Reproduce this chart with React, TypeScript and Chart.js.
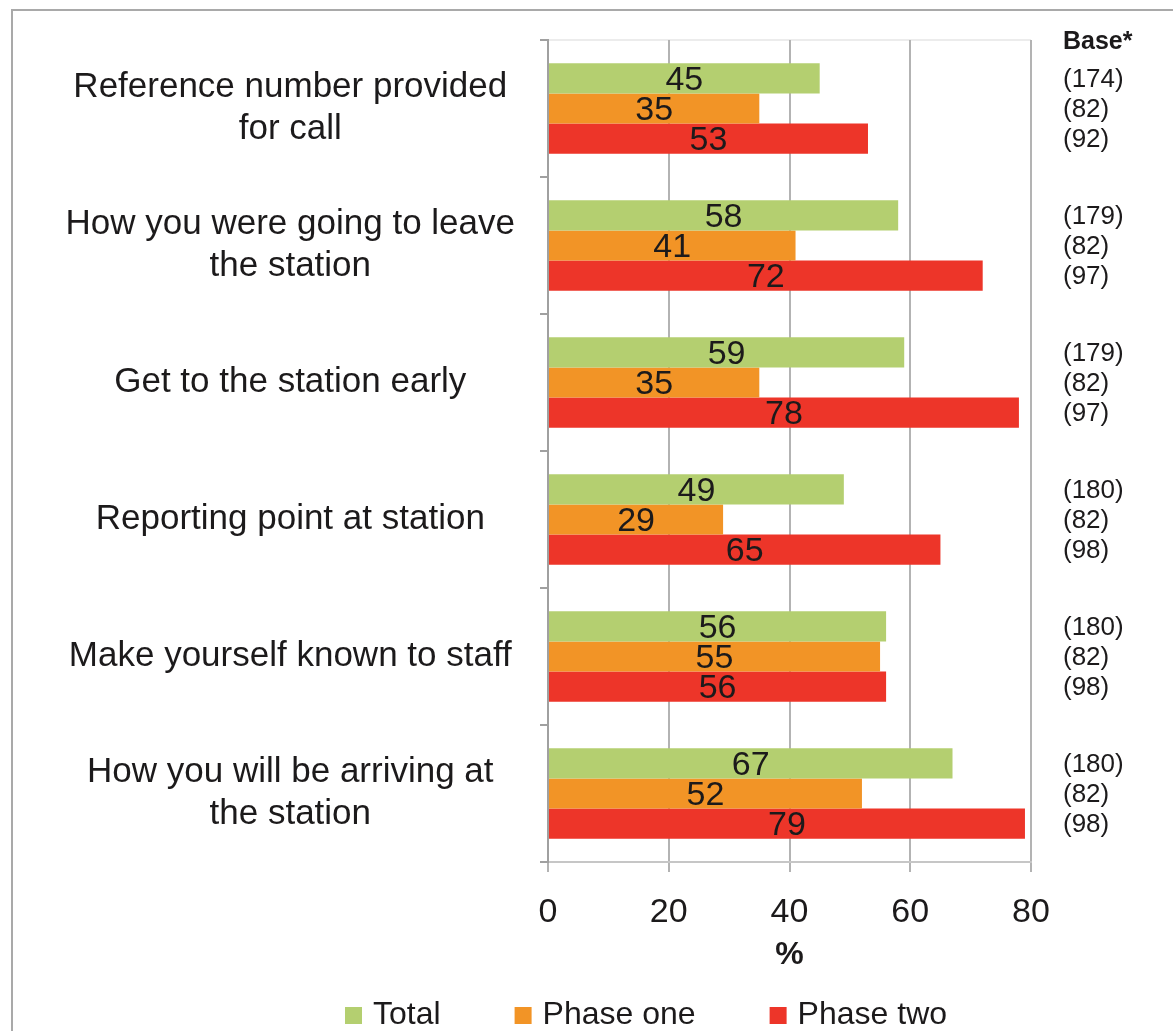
import React, { useEffect, useRef } from "react";
import { Chart, registerables } from "chart.js";

Chart.register(...registerables);

const categories: string[][] = [
  ["Reference number provided", "for call"],
  ["How you were going to leave", "the station"],
  ["Get to the station early"],
  ["Reporting point at station"],
  ["Make yourself known to staff"],
  ["How you will be arriving at", "the station"],
];

const seriesNames = ["Total", "Phase one", "Phase two"];
const totalValues = [45, 58, 59, 49, 56, 67];
const phaseOneValues = [35, 41, 35, 29, 55, 52];
const phaseTwoValues = [53, 72, 78, 65, 56, 79];

const baseTotal = [174, 179, 179, 180, 180, 180];
const basePhaseOne = [82, 82, 82, 82, 82, 82];
const basePhaseTwo = [92, 97, 97, 98, 98, 98];

const xTicks = [0, 20, 40, 60, 80];

const colors = ["#b4cf70", "#f29426", "#ed3529"];
const FONT = "'Liberation Sans', Arial, Helvetica, sans-serif";
const TEXT = "#1c1a1b";

const bases = [baseTotal, basePhaseOne, basePhaseTwo];

const framePlugin = {
  id: "frame",
  beforeDraw(chart: any) {
    const ctx = chart.ctx;
    ctx.save();
    ctx.fillStyle = "#ffffff";
    ctx.fillRect(0, 0, chart.width, chart.height);
    ctx.strokeStyle = "#a9a9a9";
    ctx.lineWidth = 2;
    ctx.strokeRect(12, 10, chart.width + 50, chart.height + 50);
    const a = chart.chartArea;
    ctx.strokeStyle = "#ececec";
    ctx.beginPath();
    ctx.moveTo(a.left, a.top);
    ctx.lineTo(a.right, a.top);
    ctx.stroke();
    ctx.restore();
  },
};

const labelsPlugin = {
  id: "valueLabels",
  afterDatasetsDraw(chart: any) {
    const ctx = chart.ctx;
    ctx.save();
    ctx.font = `34px ${FONT}`;
    ctx.fillStyle = TEXT;
    ctx.textAlign = "center";
    ctx.textBaseline = "middle";
    chart.data.datasets.forEach((ds: any, i: number) => {
      const meta = chart.getDatasetMeta(i);
      meta.data.forEach((bar: any, j: number) => {
        const cx = (bar.base + bar.x) / 2;
        ctx.fillText(String(ds.data[j]), cx, bar.y + 2);
      });
    });
    ctx.restore();
  },
  afterDraw(chart: any) {
    const ctx = chart.ctx;
    const a = chart.chartArea;
    ctx.save();
    const bx = a.right + 32;
    ctx.fillStyle = TEXT;
    ctx.textAlign = "left";
    ctx.textBaseline = "middle";
    ctx.font = `bold 25px ${FONT}`;
    ctx.fillText("Base*", bx, a.top + 2);
    ctx.font = `26px ${FONT}`;
    chart.data.datasets.forEach((ds: any, i: number) => {
      const meta = chart.getDatasetMeta(i);
      meta.data.forEach((bar: any, j: number) => {
        ctx.fillText(`(${bases[i][j]})`, bx, bar.y + 1);
      });
    });
    // legend
    ctx.font = `32px ${FONT}`;
    let x = 345;
    const y = 1015;
    chart.data.datasets.forEach((ds: any) => {
      ctx.fillStyle = ds.backgroundColor;
      ctx.fillRect(x, y - 8, 17, 17);
      ctx.fillStyle = TEXT;
      ctx.fillText(ds.label, x + 28, y);
      x += 28 + ctx.measureText(ds.label).width + 74;
    });
    ctx.restore();
  },
};

export default function App() {
  const ref = useRef<HTMLCanvasElement | null>(null);
  useEffect(() => {
    if (!ref.current) return;
    const chart = new Chart(ref.current, {
      type: "bar",
      data: {
        labels: categories,
        datasets: [totalValues, phaseOneValues, phaseTwoValues].map((d, i) => ({
          label: seriesNames[i],
          data: d,
          backgroundColor: colors[i],
          borderWidth: 0,
          barPercentage: 1,
          categoryPercentage: 0.66,
        })),
      },
      options: {
        indexAxis: "y",
        responsive: false,
        animation: false,
        layout: { padding: { left: 0, top: 40, right: 142, bottom: 0 } },
        plugins: {
          legend: { display: false },
          tooltip: { enabled: false },
        },
        scales: {
          x: {
            min: 0,
            max: 80,
            afterBuildTicks: (scale: any) => {
              scale.ticks = xTicks.map((v) => ({ value: v }));
            },
            afterFit: (scale: any) => {
              scale.height = 169;
            },
            grid: {
              color: "#b3b3b3",
              lineWidth: 2,
              tickLength: 10,
              drawTicks: true,
            },
            border: { color: "#c6c6c6", width: 2 },
            ticks: {
              padding: 20,
              color: TEXT,
              font: { family: FONT, size: 34 },
            },
            title: {
              display: true,
              text: "%",
              color: TEXT,
              font: { family: FONT, size: 32, weight: "bold" },
              padding: { top: 0, bottom: 57 },
            },
          },
          y: {
            afterFit: (scale: any) => {
              scale.width = 548;
              scale.paddingTop = 0;
              scale.paddingBottom = 0;
            },
            grid: {
              drawOnChartArea: false,
              drawTicks: true,
              tickLength: 8,
              offset: true,
              color: "#a0a0a0",
              lineWidth: 2,
            },
            border: { color: "#a0a0a0", width: 2 },
            ticks: {
              autoSkip: false,
              crossAlign: "center",
              padding: 25,
              color: TEXT,
              font: { family: FONT, size: 35, lineHeight: 1.2 },
            },
          },
        },
      },
      plugins: [framePlugin, labelsPlugin],
    } as any);
    return () => chart.destroy();
  }, []);
  return (
    <div style={{ position: "absolute", left: 0, top: 0, width: 1173, height: 1031 }}>
      <canvas ref={ref} width={1173} height={1031} />
    </div>
  );
}
